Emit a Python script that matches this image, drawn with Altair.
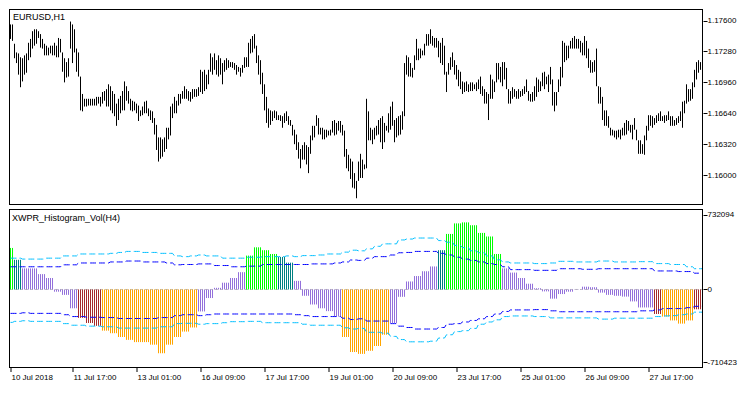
import altair as alt
import pandas as pd

FONT = "Liberation Sans"

# ---------------- EURUSD,H1 price bars (high / low in pips, 1 pip = 0.0001) ----------------
bar_high_pips = [
    11756, 11756, 11736, 11727, 11726, 11722, 11721, 11724, 11726, 11737,
    11741, 11749, 11751, 11751, 11749, 11746, 11741, 11736, 11734, 11732,
    11734, 11734, 11737, 11734, 11742, 11741, 11727, 11721, 11717, 11721,
    11759, 11756, 11751, 11731, 11727, 11702, 11684, 11679, 11679, 11679,
    11679, 11679, 11679, 11681, 11681, 11681, 11686, 11687, 11689, 11694,
    11692, 11687, 11684, 11674, 11679, 11682, 11687, 11697, 11692, 11687,
    11679, 11677, 11676, 11674, 11672, 11667, 11671, 11676, 11677, 11669,
    11667, 11666, 11659, 11652, 11639, 11639, 11637, 11639, 11649, 11649,
    11671, 11674, 11681, 11677, 11684, 11684, 11687, 11692, 11689, 11687,
    11686, 11689, 11689, 11689, 11691, 11709, 11707, 11709, 11704, 11709,
    11726, 11722, 11726, 11719, 11724, 11721, 11716, 11719, 11721, 11719,
    11717, 11717, 11716, 11714, 11712, 11711, 11714, 11722, 11722, 11737,
    11741, 11744, 11746,
    11734, 11724, 11719, 11706, 11694, 11681, 11669, 11667, 11666, 11667,
    11666, 11662, 11662, 11661, 11664, 11666, 11661, 11657, 11652, 11647,
    11642, 11634, 11627, 11631, 11634, 11631, 11629, 11641, 11651, 11651,
    11662, 11659, 11649, 11649, 11647, 11647, 11646, 11647, 11656, 11657,
    11654, 11656, 11656, 11652, 11646, 11627, 11621, 11617, 11614, 11602,
    11594, 11614, 11622, 11616, 11611, 11679, 11666, 11649, 11647, 11649,
    11651, 11657, 11659, 11661, 11654, 11651, 11664, 11671, 11676, 11657,
    11659, 11661, 11662, 11666, 11716, 11724, 11722, 11716, 11711, 11724,
    11741, 11731, 11731, 11729, 11736, 11746, 11746, 11751, 11744, 11742,
    11742, 11739, 11737, 11742, 11734, 11707, 11716, 11722, 11727, 11719,
    11714, 11709, 11707, 11697, 11696, 11697, 11694, 11696, 11696, 11694,
    11696, 11699, 11702, 11692, 11689, 11686, 11684, 11704, 11699, 11697,
    11716, 11716, 11712, 11717, 11717,
    11711, 11689, 11687, 11691, 11689, 11687, 11689, 11687, 11689, 11692,
    11699, 11687, 11684, 11686, 11692, 11701, 11699, 11697, 11706, 11707,
    11702, 11704, 11712, 11699, 11686, 11686, 11699, 11712, 11739, 11737,
    11734, 11734, 11739, 11742, 11744, 11741, 11741, 11739, 11737, 11744,
    11739, 11731, 11719, 11717, 11719, 11731, 11692, 11691, 11681, 11667,
    11667, 11661, 11649, 11647, 11646, 11646, 11647, 11647, 11649, 11654,
    11657, 11656, 11652, 11652, 11659, 11647, 11636, 11636, 11632, 11641,
    11651, 11662, 11662, 11661, 11659, 11662, 11664, 11666, 11661, 11662,
    11662, 11666, 11661, 11661, 11657, 11659, 11661, 11666, 11676, 11677,
    11694, 11689, 11689, 11696, 11709, 11717, 11719, 11717, 11719,
]

bar_low_pips = [
    11741, 11739, 11721, 11716, 11704, 11691, 11697, 11704, 11706, 11719,
    11722, 11731, 11734, 11736, 11742, 11732, 11731, 11724, 11724, 11724,
    11726, 11724, 11724, 11722, 11722, 11727, 11707, 11696, 11701, 11702,
    11731, 11716, 11727, 11707, 11702, 11667, 11666, 11671, 11671, 11672,
    11672, 11672, 11672, 11672, 11674, 11671, 11674, 11677, 11671, 11671,
    11667, 11664, 11661, 11651, 11657, 11664, 11667, 11667, 11677, 11674,
    11667, 11666, 11667, 11664, 11656, 11661, 11662, 11664, 11664, 11661,
    11657, 11654, 11642, 11626, 11614, 11617, 11619, 11624, 11627, 11637,
    11641, 11659, 11664, 11664, 11672, 11674, 11679, 11679, 11679, 11677,
    11676, 11679, 11681, 11681, 11682, 11686, 11684, 11687, 11689, 11694,
    11707, 11704, 11709, 11704, 11702, 11704, 11694, 11707, 11709, 11711,
    11712, 11711, 11709, 11704, 11707, 11702, 11706, 11711, 11712, 11712,
    11726, 11727, 11731,
    11716, 11704, 11694, 11684, 11667, 11654, 11649, 11652, 11656, 11659,
    11657, 11657, 11656, 11649, 11654, 11656, 11652, 11651, 11641, 11632,
    11626, 11617, 11607, 11616, 11616, 11611, 11602, 11622, 11636, 11639,
    11651, 11642, 11642, 11637, 11637, 11639, 11641, 11641, 11644, 11641,
    11642, 11646, 11644, 11641, 11619, 11607, 11604, 11596, 11587, 11586,
    11576, 11594, 11597, 11597, 11606, 11607, 11636, 11636, 11632, 11637,
    11641, 11642, 11634, 11627, 11634, 11646, 11644, 11647, 11651, 11634,
    11639, 11641, 11642, 11647, 11661, 11704, 11702, 11702, 11701, 11709,
    11719, 11719, 11721, 11724, 11724, 11734, 11734, 11736, 11734, 11732,
    11732, 11722, 11716, 11714, 11704, 11686, 11704, 11709, 11712, 11704,
    11699, 11692, 11689, 11684, 11686, 11687, 11686, 11687, 11687, 11689,
    11687, 11689, 11684, 11682, 11674, 11674, 11657, 11679, 11679, 11686,
    11696, 11699, 11696, 11692, 11699,
    11689, 11674, 11674, 11679, 11681, 11679, 11679, 11681, 11682, 11684,
    11686, 11677, 11676, 11676, 11677, 11681, 11686, 11687, 11692, 11689,
    11694, 11686, 11694, 11672, 11666, 11672, 11686, 11692, 11701, 11717,
    11719, 11721, 11731, 11731, 11731, 11731, 11731, 11727, 11724, 11724,
    11721, 11711, 11706, 11706, 11707, 11692, 11674, 11674, 11657, 11651,
    11651, 11649, 11641, 11641, 11639, 11637, 11639, 11637, 11641, 11641,
    11642, 11646, 11644, 11637, 11647, 11636, 11622, 11622, 11622, 11621,
    11636, 11646, 11651, 11649, 11652, 11654, 11656, 11656, 11656, 11654,
    11656, 11657, 11651, 11651, 11651, 11652, 11654, 11656, 11649, 11664,
    11674, 11676, 11677, 11679, 11691, 11699, 11706, 11709, 11709,
]

# ---------------- XWPR_Histogram_Vol(H4): one value per H4 block (thousands) ----------------
hist_k = [
    406, 290, 206, 206, 150, 112, -22, -53, -184, -278,
    -328, -356, -403, -428, -465, -493, -515, -515, -540, -624,
    -540, -465, -412, -372, -215, -84, 16, 66, 112, 169,
    331, 412, 384, 347, 318, 262, 84, -62, -147, -184,
    -212, -265, -465, -612, -630, -600, -553, -443, -328, -72,
    78, 131, 178, 225, 384, 543, 646, 656, 628, 553,
    518, 347, 206, 165, 112, 56, 12, -19, -90, -45,
    -22, -3, 27, 22, -31, -53, -62, -70, -117, -176,
    -176, -240, -265, -303, -334, -303, -194, -150,
]

# G = lime, T = teal, P = purple, B = brown, O = orange
hist_color = [
    "G", "T", "P", "P", "P", "P", "P", "P", "P", "B",
    "B", "B", "O", "O", "O", "O", "O", "O", "O", "O",
    "O", "O", "O", "O", "P", "P", "P", "P", "P", "P",
    "G", "G", "G", "G", "T", "T", "P", "P", "P", "P",
    "P", "P", "O", "O", "O", "O", "O", "O", "P", "P",
    "P", "P", "P", "P", "T", "G", "G", "G", "G", "G",
    "G", "G", "P", "P", "P", "P", "P", "P", "P", "P",
    "P", "P", "P", "P", "P", "P", "P", "P", "P", "P",
    "P", "B", "O", "O", "O", "O", "B", "P",
]

upper_outer_k = [
    306, 306, 297, 297, 297, 306, 306, 328, 328, 347,
    347, 347, 347, 353, 362, 372, 372, 362, 362, 353,
    353, 328, 321, 328, 337, 328, 328, 306, 306, 306,
    315, 315, 321, 321, 321, 328, 321, 331, 331, 337,
    347, 347, 365, 384, 378, 397, 422, 446, 446, 484,
    493, 503, 503, 503, 478, 462, 431, 409, 378, 359,
    328, 290, 269, 259, 259, 259, 253, 253, 259, 275,
    275, 269, 269, 269, 278, 278, 269, 269, 269, 272,
    272, 253, 253, 244, 244, 222, 203, 203,
]
upper_inner_k = [
    222, 222, 222, 222, 222, 222, 222, 241, 241, 259,
    259, 259, 259, 269, 269, 278, 278, 269, 269, 269,
    259, 241, 244, 244, 250, 250, 234, 234, 222, 222,
    228, 228, 244, 244, 244, 244, 244, 244, 250, 250,
    250, 259, 269, 288, 284, 306, 321, 321, 337, 359,
    362, 372, 372, 372, 353, 337, 315, 297, 284, 269,
    253, 244, 222, 194, 194, 194, 187, 187, 187, 203,
    203, 203, 197, 197, 203, 203, 203, 203, 203, 203,
    203, 181, 181, 181, 175, 175, 159, 159,
]
lower_inner_k = [
    -234, -234, -228, -234, -234, -234, -234, -247, -265, -265,
    -272, -272, -275, -275, -284, -284, -284, -284, -284, -275,
    -275, -256, -247, -247, -256, -247, -240, -240, -240, -240,
    -240, -240, -240, -240, -240, -240, -247, -256, -265, -265,
    -265, -265, -281, -294, -287, -309, -309, -309, -334, -359,
    -372, -387, -387, -387, -372, -340, -334, -318, -303, -287,
    -265, -240, -215, -200, -200, -200, -197, -197, -209, -218,
    -218, -218, -218, -218, -218, -218, -218, -218, -218, -209,
    -209, -200, -187, -187, -187, -178, -165, -162,
]
lower_outer_k = [
    -322, -312, -306, -312, -312, -312, -312, -334, -350, -350,
    -359, -359, -365, -365, -378, -378, -378, -378, -378, -365,
    -365, -334, -331, -331, -340, -334, -334, -325, -315, -315,
    -312, -312, -325, -325, -325, -325, -325, -340, -350, -350,
    -350, -350, -375, -387, -381, -419, -419, -428, -459, -490,
    -512, -512, -512, -506, -475, -443, -412, -403, -381, -340,
    -318, -297, -265, -259, -259, -259, -265, -265, -278, -278,
    -278, -278, -278, -278, -290, -290, -281, -281, -281, -281,
    -281, -265, -259, -256, -247, -240, -222, -222,
]

tick_bars = [0, 31, 63, 95, 127, 159, 191, 223, 255, 287, 319]
tick_labels = ["10 Jul 2018", "11 Jul 17:00", "13 Jul 01:00", "16 Jul 09:00",
               "17 Jul 17:00", "19 Jul 01:00", "20 Jul 09:00", "23 Jul 17:00",
               "25 Jul 01:00", "26 Jul 09:00", "27 Jul 17:00"]
price_ticks = [1.16000, 1.16320, 1.16640, 1.16960, 1.17280, 1.17600]
vol_ticks = [-710423, 0, 732094]

# ---------------- tables ----------------
n = len(bar_high_pips)
assert n == len(bar_low_pips) == 347, (len(bar_high_pips), len(bar_low_pips))
nb = len(hist_k)
for arr in (hist_color, upper_outer_k, upper_inner_k, lower_inner_k, lower_outer_k):
    assert len(arr) == nb, len(arr)


def block(j):
    # the first H4 block holds 2 H1 bars, the following ones 4 each
    return 0 if j < 2 else (j - 2) // 4 + 1


price_df = pd.DataFrame({
    "bar": list(range(n)),
    "high": [h / 10000 for h in bar_high_pips],
    "low": [l / 10000 for l in bar_low_pips],
})
hist_df = pd.DataFrame({
    "bar": list(range(n)),
    "v": [hist_k[block(j)] * 1000 for j in range(n)],
    "c": [hist_color[block(j)] for j in range(n)],
})


def band_frame(arr):
    return pd.DataFrame({"bar": list(range(n)), "v": [arr[block(j)] * 1000 for j in range(n)]})


W = 694          # 2 px per H1 bar
H1 = 196
H2 = 159
LABEL_SIZE = 8

# bar centres land on pixel centres
xs = alt.Scale(domain=[-0.75, n - 0.75], nice=False, zero=False)
price_y = alt.Scale(domain=[1.1569, 1.1772], nice=False, zero=False)
vol_y = alt.Scale(domain=[-768100, 786800], nice=False, zero=False)

price_axis = alt.Axis(orient="right", values=price_ticks, format=".5f", title=None,
                      grid=False, domain=False, tickSize=4, labelPadding=0)
vol_axis = alt.Axis(orient="right", values=vol_ticks, labelExpr="'' + datum.value",
                    title=None, grid=False, domain=False, tickSize=4, labelPadding=0)
lab_arr = "[" + ",".join("'" + s + "'" for s in tick_labels) + "]"
val_arr = "[" + ",".join(str(v) for v in tick_bars) + "]"
time_axis = alt.Axis(values=tick_bars, labelExpr=lab_arr + "[indexof(" + val_arr + ", datum.value)]",
                     labelAlign="left", labelFlush=False, labelOverlap=False, labelOffset=1,
                     title=None, grid=False, domain=False, tickSize=4, labelPadding=2,
                     translate=0)

one_row = alt.Data(values=[{"k": 1}])


def frame(w, h):
    edges = []
    for enc in (
        dict(x=alt.value(0.5), y=alt.value(0.5), y2=alt.value(h - 0.5)),
        dict(x=alt.value(w - 0.5), y=alt.value(0.5), y2=alt.value(h - 0.5)),
        dict(y=alt.value(0.5), x=alt.value(0.5), x2=alt.value(w - 0.5)),
        dict(y=alt.value(h - 0.5), x=alt.value(0.5), x2=alt.value(w - 0.5)),
    ):
        edges.append(alt.Chart(one_row).mark_rule(color="black", strokeWidth=1,
                                                  strokeCap="square").encode(**enc))
    return edges


# invisible anchor: whole drawing a whole number of pixels, comfortably inside the page
anchor = alt.Chart(one_row).mark_rule(color="white", strokeWidth=0, opacity=0).encode(
    x=alt.value(W + 38), y=alt.value(H2 + 17), y2=alt.value(H2 + 17)
)

# ---------------- top panel ----------------
bars = alt.Chart(price_df).mark_rule(color="black", strokeWidth=1).encode(
    x=alt.X("bar:Q", scale=xs, axis=None),
    y=alt.Y("low:Q", scale=price_y, axis=price_axis),
    y2="high:Q",
)
title1 = alt.Chart(alt.Data(values=[{"t": "EURUSD,H1"}])).mark_text(
    align="left", baseline="top", font=FONT, fontSize=9, color="black"
).encode(x=alt.value(4), y=alt.value(4), text="t:N")
top = alt.layer(bars, title1, *frame(W, H1)).properties(width=W, height=H1)

# ---------------- bottom panel ----------------
zero_line = alt.Chart(alt.Data(values=[{"z": 0}])).mark_rule(
    color="#C0C0C0", strokeWidth=1, strokeDash=[3, 2]
).encode(
    y=alt.Y("z:Q", scale=vol_y, axis=vol_axis),
    x=alt.value(1), x2=alt.value(W - 1),
)

hist = alt.Chart(hist_df).mark_rule(strokeWidth=1).encode(
    x=alt.X("bar:Q", scale=xs, axis=time_axis),
    y=alt.Y("v:Q", scale=vol_y, axis=vol_axis),
    y2=alt.datum(0),
    color=alt.Color("c:N", legend=None, scale=alt.Scale(
        domain=["G", "T", "P", "B", "O"],
        range=["#00FF00", "#008080", "#9370DB", "#A52A2A", "#FFA500"])),
)

band_layers = []
for arr, col in ((upper_outer_k, "#00BFFF"), (upper_inner_k, "#0000FF"),
                 (lower_inner_k, "#0000FF"), (lower_outer_k, "#00BFFF")):
    band_layers.append(
        alt.Chart(band_frame(arr)).mark_line(color=col, strokeWidth=1, strokeDash=[6, 3]).encode(
            x=alt.X("bar:Q", scale=xs, axis=time_axis),
            y=alt.Y("v:Q", scale=vol_y, axis=vol_axis),
        )
    )

title2 = alt.Chart(alt.Data(values=[{"t": "XWPR_Histogram_Vol(H4)"}])).mark_text(
    align="left", baseline="top", font=FONT, fontSize=9, color="black"
).encode(x=alt.value(3), y=alt.value(5), text="t:N")

bottom = alt.layer(zero_line, hist, *band_layers, title2, *frame(W, H2), anchor).properties(
    width=W, height=H2)

chart = alt.vconcat(top, bottom, spacing=2).configure_view(
    stroke=None
).configure_axis(
    labelFont=FONT, labelFontSize=LABEL_SIZE, labelColor="black", tickColor="black", tickWidth=1
).properties(
    padding={"left": 0, "top": 0, "right": 0, "bottom": 0},
    background="white",
)

chart.save("out.html", embed_options={"renderer": "svg", "actions": False})
